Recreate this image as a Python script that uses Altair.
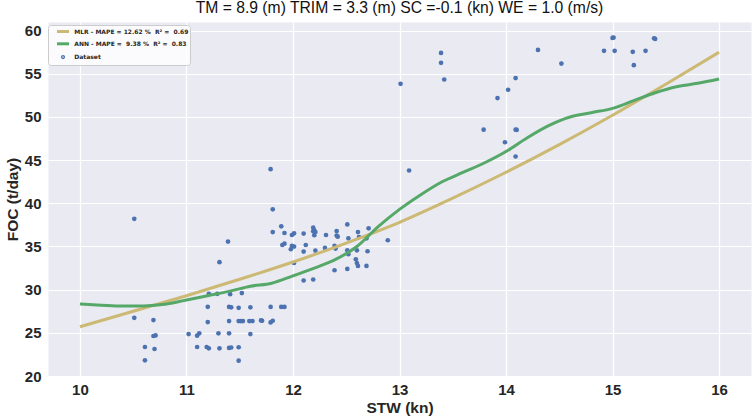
import altair as alt
import pandas as pd

# ---------------- data ----------------
dataset_stw = [
    10.51, 10.51, 10.69, 10.69, 10.71, 10.61, 10.70, 10.61,
    11.02, 11.10, 11.12, 11.10, 11.19, 11.21, 11.20, 11.20, 11.21, 11.29,
    11.30, 11.31, 11.31, 11.39, 11.41, 11.40, 11.42, 11.40, 11.40, 11.40,
    11.42, 11.49, 11.49, 11.51, 11.53, 11.49, 11.49, 11.52, 11.59, 11.60,
    11.60, 11.62, 11.70, 11.71, 11.79, 11.81, 11.79, 11.89, 11.92,
    11.79, 11.81, 11.81, 11.89, 11.92, 11.99, 12.01, 11.90, 11.92, 11.99,
    12.01, 11.98, 12.01, 12.10, 12.12, 12.10, 12.19, 12.20, 12.19, 12.21,
    12.20, 12.21, 12.10, 12.19, 12.31, 12.30, 12.39, 12.41, 12.41, 12.42,
    12.40, 12.39, 12.51, 12.52, 12.51, 12.60, 12.52, 12.51, 12.61, 12.62,
    12.59, 12.60, 12.61, 12.69, 12.71, 12.70, 12.69, 12.89,
    13.01, 13.09, 13.39, 13.39, 13.42, 13.79, 13.92, 14.02, 13.99, 14.09,
    14.09, 14.10, 14.09, 14.30, 14.52, 14.92, 15.00, 15.01, 15.02, 15.19,
    15.20, 15.31, 15.39, 15.40,
]
dataset_foc = [
    38.2, 26.74, 26.48, 24.63, 24.70, 23.36, 23.13, 21.82,
    24.86, 24.67, 24.94, 23.36, 23.36, 23.21, 28.01, 26.25, 29.52, 29.52,
    24.94, 23.21, 33.18, 35.57, 29.48, 28.0, 27.95, 26.36, 24.94, 23.25,
    23.30, 27.9, 26.36, 26.36, 26.36, 23.33, 21.78, 29.6, 26.36, 24.86,
    27.95, 26.36, 26.44, 26.40, 26.2, 26.4, 28.0, 28.0, 28.0,
    43.95, 39.30, 36.67, 37.33, 36.56, 36.33, 36.52, 35.17, 35.33, 35.06,
    34.99, 34.68, 33.09, 36.49, 35.17, 34.41, 37.18, 36.87, 36.76, 36.67,
    36.30, 34.53, 31.06, 31.18, 36.33, 34.83, 35.06, 36.79, 36.26, 36.14,
    34.76, 32.25, 37.56, 35.95, 34.56, 34.56, 34.10, 32.40, 36.67, 36.10,
    33.52, 33.09, 32.75, 35.95, 37.10, 34.45, 32.75, 35.72,
    53.84, 43.8, 57.42, 56.27, 54.34, 48.53, 52.19, 53.15, 47.07, 54.50,
    48.53, 48.50, 45.42, 57.77, 56.19, 57.66, 59.16, 59.20, 57.66, 57.54,
    56.0, 57.66, 59.12, 59.04,
]

mlr_stw = [10.0, 10.5, 11.0, 11.5, 12.0, 12.5, 13.0, 13.5, 14.0, 14.5, 15.0, 15.5, 16.0]
mlr_foc = [25.7, 27.5, 29.3, 31.2, 33.2, 35.4, 37.8, 40.6, 43.6, 46.8, 50.2, 53.8, 57.5]

ann_stw = [10.0, 10.2, 10.4, 10.6, 10.8, 11.0, 11.2, 11.4, 11.6, 11.8, 12.0, 12.2,
           12.4, 12.6, 12.8, 13.0, 13.2, 13.4, 13.6, 13.8, 14.0, 14.2, 14.4, 14.6,
           14.8, 15.0, 15.2, 15.4, 15.6, 15.8, 16.0]
ann_foc = [28.33, 28.2, 28.1, 28.12, 28.3, 28.8, 29.3, 29.8, 30.4, 30.75, 31.6, 32.5,
           33.5, 35.0, 37.3, 39.3, 41.0, 42.5, 43.6, 44.7, 46.0, 47.6, 49.0, 50.0,
           50.5, 51.0, 51.9, 52.8, 53.5, 53.9, 54.4]

NB = "\u00a0"
label_mlr = f"MLR - MAPE = 12.62 %{NB}{NB}R² ={NB}{NB}0.69"
label_ann = f"ANN - MAPE ={NB}{NB}9.38 %{NB}{NB}R² ={NB}{NB}0.83"
label_data = "Dataset"
series_labels = [label_mlr, label_ann, label_data]
series_colors = ["#CCB974", "#55A868", "#4C72B0"]

x_ticks = [10, 11, 12, 13, 14, 15, 16]
y_ticks = [20, 25, 30, 35, 40, 45, 50, 55, 60]

title_text = "TM = 8.9 (m) TRIM = 3.3 (m) SC =-0.1 (kn) WE = 1.0 (m/s)"

# ---------------- tables ----------------
df_pts = pd.DataFrame({"STW": dataset_stw, "FOC": dataset_foc, "series": label_data})
df_mlr = pd.DataFrame({"STW": mlr_stw, "FOC": mlr_foc, "series": label_mlr})
df_ann = pd.DataFrame({"STW": ann_stw, "FOC": ann_foc, "series": label_ann})

FONT = "Liberation Sans"
TXT = "#262626"

x_enc = alt.X(
    "STW:Q",
    scale=alt.Scale(domain=[9.7, 16.3], nice=False, zero=False),
    axis=alt.Axis(
        values=x_ticks, format="d", title="STW (kn)",
        labelFont=FONT, labelFontSize=15, labelFontWeight="bold", labelColor=TXT,
        labelPadding=6, domain=False, ticks=False,
        grid=True, gridColor="white", gridWidth=1.2,
        titleFont=FONT, titleFontSize=15.5, titleFontWeight="bold", titleColor=TXT,
        titleY=31, titleBaseline="middle",
    ),
)
y_enc = alt.Y(
    "FOC:Q",
    scale=alt.Scale(domain=[20, 61], nice=False, zero=False),
    axis=alt.Axis(
        values=y_ticks, format="d", title="FOC (t/day)",
        labelFont=FONT, labelFontSize=15, labelFontWeight="bold", labelColor=TXT,
        labelPadding=7, domain=False, ticks=False,
        grid=True, gridColor="white", gridWidth=1.2,
        titleFont=FONT, titleFontSize=15.5, titleFontWeight="bold", titleColor=TXT,
        titleX=-35.5, titleY=177, titleAngle=270, titleBaseline="middle", titleAlign="center",
    ),
)

# legend glyphs: a small dot for "Dataset", a 12px stroke for the two curves
DOT = "M0.15,0A0.15,0.15,0,1,1,-0.15,0A0.15,0.15,0,1,1,0.15,0Z"
DASH = "M-1.5,0H1.5"
legend = alt.Legend(
    title=None, orient="none", legendX=0, legendY=3,
    fillColor="rgba(255,255,255,0.8)", strokeColor="#cccccc", cornerRadius=3,
    padding=1, rowPadding=-0.7, symbolOffset=8.5, labelOffset=5.8,
    symbolType=alt.ExprRef(expr=f"datum.value === 'Dataset' ? '{DOT}' : '{DASH}'"),
    symbolSize=64, symbolStrokeWidth=3, symbolOpacity=1,
    symbolStrokeColor=alt.ExprRef(expr="scale('color', datum.value)"),
    symbolFillColor=alt.ExprRef(expr="scale('color', datum.value)"),
    labelFont="DejaVu Sans", labelFontSize=6, labelFontWeight="bold", labelColor=TXT,
    labelLimit=300,
)

color_enc = alt.Color(
    "series:N",
    scale=alt.Scale(domain=series_labels, range=series_colors),
    legend=legend,
)

points = alt.Chart(df_pts).mark_circle(size=22, opacity=1).encode(
    x=x_enc, y=y_enc, color=color_enc
)
line_mlr = alt.Chart(df_mlr).mark_line(strokeWidth=3, interpolate="monotone").encode(
    x=x_enc, y=y_enc, color=color_enc
)
line_ann = alt.Chart(df_ann).mark_line(strokeWidth=3, interpolate="monotone").encode(
    x=x_enc, y=y_enc, color=color_enc
)

chart = (
    alt.layer(points, line_mlr, line_ann)
    .properties(
        width=703, height=354,
        title=alt.TitleParams(
            text=title_text, font=FONT, fontSize=15.7, fontWeight="normal",
            color="#111111", anchor="middle", baseline="middle", offset=11,
            frame="group", dy=13,
        ),
        autosize=alt.AutoSizeParams(type="none"),
        padding={"left": 48, "top": 22, "right": 1, "bottom": 42},
        background="white",
    )
    .configure_view(fill="#EAEAF2", stroke="transparent")
)

chart.save("out.html", embed_options={"renderer": "svg", "actions": False})
